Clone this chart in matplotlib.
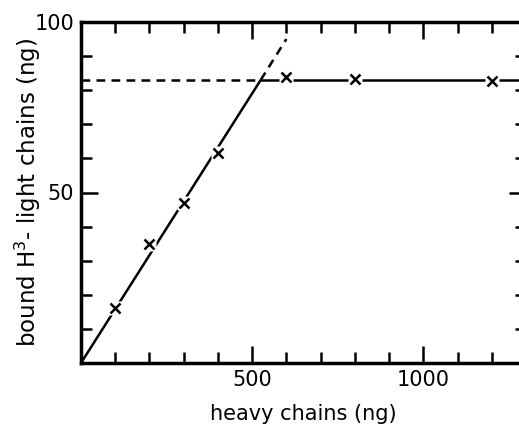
import matplotlib
matplotlib.use("Agg")
import matplotlib.pyplot as plt
import numpy as np

heavy = [100, 200, 300, 400, 600, 800, 1200]
bound = [16, 35, 47, 61.5, 84, 83.3, 82.6]

slope_x = [0, 525]
slope_y = [0, 83]
slope_dash_x = [525, 600]
slope_dash_y = [83, 95]
plateau_dash_x = [0, 525]
plateau_y = [83, 83]
plateau_x = [525, 1300]

plt.rcParams['font.family'] = ['DejaVu Sans']
fig = plt.figure(figsize=(5.19, 4.28), dpi=100)
ax = fig.add_axes([81/519, 65/428, 445/519, 341/428])

lw = 1.8
ax.plot(slope_x, slope_y, color='black', lw=lw, solid_capstyle='butt')
ax.plot(slope_dash_x, slope_dash_y, color='black', lw=lw, ls=(0, (3.5, 2.5)))
ax.plot(plateau_dash_x, plateau_y, color='black', lw=lw, ls=(0, (3.5, 2.5)))
ax.plot(plateau_x, plateau_y, color='black', lw=lw)
ax.plot(heavy, bound, ls='none', marker='s', ms=10, mfc='white', mec='none')
ax.plot(heavy, bound, ls='none', marker='x', ms=7, mew=1.8, color='black')

ax.set_xlim(0, 1300)
ax.set_ylim(0, 100)
ax.set_xticks([500, 1000])
ax.set_xticklabels(['500', '1000'])
ax.set_xticks(np.arange(100, 1300, 100), minor=True)
ax.set_yticks([50, 100])
ax.set_yticklabels(['50', '100'])
ax.set_yticks(np.arange(10, 100, 10), minor=True)
ax.tick_params(which='both', direction='in', top=True, right=True, width=1.8, labelsize=15, pad=5)
ax.tick_params(which='major', length=12)
ax.tick_params(which='minor', length=8)
for s in ax.spines.values():
    s.set_linewidth(2.5)

ax.set_xlabel('heavy chains (ng)', fontsize=15, labelpad=10)
ax.set_ylabel('bound H$^3$- light chains (ng)', fontsize=16.5)
ax.yaxis.set_label_coords(-0.085, 0.5)

fig.savefig('out.png', dpi=100)
